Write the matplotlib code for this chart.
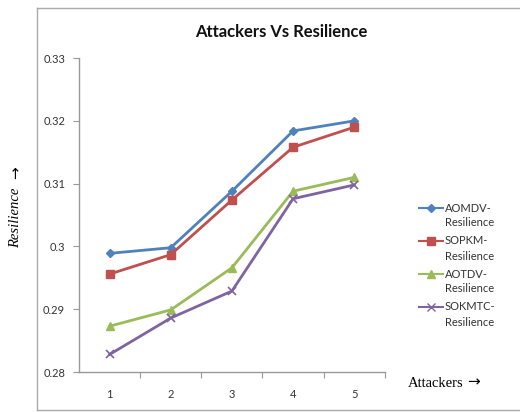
import matplotlib

matplotlib.use("Agg")
import matplotlib.pyplot as plt
from matplotlib.lines import Line2D

ATTACKERS = [1, 2, 3, 4, 5]
AOMDV = [0.2989, 0.2998, 0.3088, 0.3184, 0.3200]
SOPKM = [0.2956, 0.2987, 0.3074, 0.3158, 0.3190]
AOTDV = [0.2873, 0.2899, 0.2966, 0.3088, 0.3110]
SOKMTC = [0.2828, 0.2886, 0.2929, 0.3076, 0.3098]
SERIES_LABELS = ["AOMDV-\nResilience", "SOPKM-\nResilience",
                 "AOTDV-\nResilience", "SOKMTC-\nResilience"]
Y_TICKS = [0.28, 0.29, 0.30, 0.31, 0.32, 0.33]
Y_TICK_LABELS = ["0.28", "0.29", "0.3", "0.31", "0.32", "0.33"]

STYLES = [
    ("#4F81BD", "D", 4.5),
    ("#C0504D", "s", 6),
    ("#9BBB59", "^", 6),
    ("#8064A2", "x", 6),
]

plt.rcParams["font.family"] = ["Lato", "DejaVu Sans"]
SERIF = ["Liberation Serif", "DejaVu Serif"]

W, H = 520, 412
fig = plt.figure(figsize=(W / 100, H / 100), dpi=100)
ax = fig.add_axes([0.152, 0.097, 0.588, 0.762])

for values, label, (color, marker, size) in zip(
        [AOMDV, SOPKM, AOTDV, SOKMTC], SERIES_LABELS, STYLES):
    ax.plot(ATTACKERS, values, color=color, linewidth=2, marker=marker,
            markersize=size, markeredgewidth=1 if marker != "x" else 1.2,
            label=label)

ax.set_xlim(0.5, 5.5)
ax.set_ylim(0.28, 0.33)
ax.set_yticks(Y_TICKS)
ax.set_yticklabels(Y_TICK_LABELS)
ax.set_xticks([1.5, 2.5, 3.5, 4.5, 5.5])
ax.set_xticklabels([])
ax.set_xticks(ATTACKERS, minor=True)
ax.set_xticklabels([str(a) for a in ATTACKERS], minor=True)
ax.tick_params(axis="x", which="minor", length=0, pad=12, labelsize=8,
               labelcolor="#333333")
ax.tick_params(axis="x", which="major", length=4, color="#999999",
               direction="out")
ax.tick_params(axis="y", length=4, color="#999999", labelsize=8,
               labelcolor="#333333", pad=6)

for side in ("top", "right"):
    ax.spines[side].set_visible(False)
for side in ("left", "bottom"):
    ax.spines[side].set_color("#999999")
    ax.spines[side].set_linewidth(1)

fig.text(0.54, 0.922, "Attackers Vs Resilience", ha="center", va="center",
         fontsize=12, fontweight="bold", color="#111111")

# axis captions: serif words followed by a heavier arrow
fig.text(0.03, 0.472, "Resilience", rotation=90, ha="center",
         va="center", fontsize=10.5, style="italic", family=SERIF)
fig.text(0.03, 0.582, "\u2192", rotation=90, ha="center", va="center",
         fontsize=11, family=["DejaVu Sans"])
fig.text(0.785, 0.07, "Attackers", ha="left", va="center",
         fontsize=10.5, family=SERIF)
fig.text(0.899, 0.072, "\u2192", ha="left", va="center",
         fontsize=11, family=["DejaVu Sans"])

# legend: handle sits level with the first line of each two-line label
for i, (label, (color, marker, size)) in enumerate(zip(SERIES_LABELS, STYLES)):
    y = 1 - (208 + 33 * i) / H
    fig.add_artist(Line2D([419 / W, 431 / W, 443 / W], [y, y, y],
                          color=color, linewidth=1.5, marker=marker,
                          markersize=size * 0.9, markevery=[1],
                          transform=fig.transFigure))
    first, second = label.split("\n")
    fig.text(445 / W, y, first, ha="left", va="center", fontsize=8,
             color="#333333")
    fig.text(445 / W, y - 15 / H, second, ha="left", va="center",
             fontsize=8, color="#333333")

# chart area frame
frame_kw = dict(color="#AAAAAA", linewidth=1, transform=fig.transFigure)
fig.add_artist(Line2D([0.071, 0.071], [0.005, 0.98], **frame_kw))
fig.add_artist(Line2D([0.071, 1.0], [0.98, 0.98], **frame_kw))
fig.add_artist(Line2D([0.071, 1.0], [0.005, 0.005], **frame_kw))

fig.savefig("out.png", dpi=100, facecolor="white")
